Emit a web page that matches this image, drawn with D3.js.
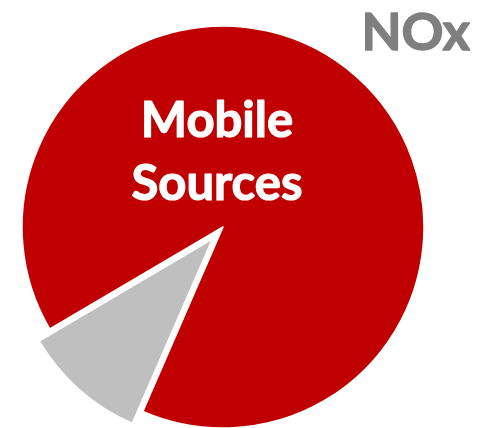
<!DOCTYPE html>
<html>
<head>
<meta charset="utf-8">
<script src="https://cdn.jsdelivr.net/npm/d3@7"></script>
<style>
  html, body { margin: 0; padding: 0; background: #ffffff; }
  svg { display: block; }
</style>
</head>
<body>
<svg id="chart" width="485" height="428"></svg>
<script>
// NOx emissions share by source category
const categories = ["Mobile Sources", "Other Sources"];
const shares = [90, 10];
const sliceColors = ["#C00000", "#BFBFBF"];
const explode = [0, 16];        // radial pull-out per slice, px
const chartTitle = "NOx";
const labelLines = ["Mobile", "Sources"];

const width = 485, height = 428;
const cx = 223, cy = 227, radius = 201;

const svg = d3.select("#chart");

const pie = d3.pie()
  .sort(null)
  .value(d => d.value)
  .startAngle(-120.5 * Math.PI / 180)
  .endAngle((360 - 120.5) * Math.PI / 180);

const arc = d3.arc().innerRadius(0).outerRadius(radius);

const data = categories.map((c, i) => ({ name: c, value: shares[i], i }));
const arcs = pie(data);

const g = svg.append("g").attr("transform", `translate(${cx},${cy})`);

g.selectAll("path.slice")
  .data(arcs)
  .join("path")
  .attr("class", "slice")
  .attr("transform", d => {
    const mid = (d.startAngle + d.endAngle) / 2;
    const off = explode[d.data.i];
    return `translate(${Math.sin(mid) * off},${-Math.cos(mid) * off})`;
  })
  .attr("d", arc)
  .attr("fill", d => sliceColors[d.data.i])
  .attr("stroke", "#ffffff")
  .attr("stroke-width", 1.5)
  .attr("stroke-linejoin", "round");

// Slice label inside the large slice
const label = svg.append("text")
  .attr("text-anchor", "middle")
  .attr("fill", "#ffffff")
  .attr("stroke", "#ffffff")
  .attr("stroke-width", 1.2)
  .attr("stroke-linejoin", "round")
  .attr("font-family", "Lato, 'Open Sans', sans-serif")
  .attr("font-weight", 700)
  .attr("font-size", 49);

label.selectAll("tspan")
  .data(labelLines)
  .join("tspan")
  .attr("x", 217)
  .attr("y", (d, i) => 137 + i * 63)
  .text(d => d);

// Pollutant title
svg.append("text")
  .attr("x", 470)
  .attr("y", 50)
  .attr("text-anchor", "end")
  .attr("fill", "#7F7F7F")
  .attr("stroke", "#7F7F7F")
  .attr("stroke-width", 1.4)
  .attr("stroke-linejoin", "round")
  .attr("font-family", "Lato, 'Open Sans', sans-serif")
  .attr("font-weight", 700)
  .attr("font-size", 52)
  .text(chartTitle);
</script>
</body>
</html>
